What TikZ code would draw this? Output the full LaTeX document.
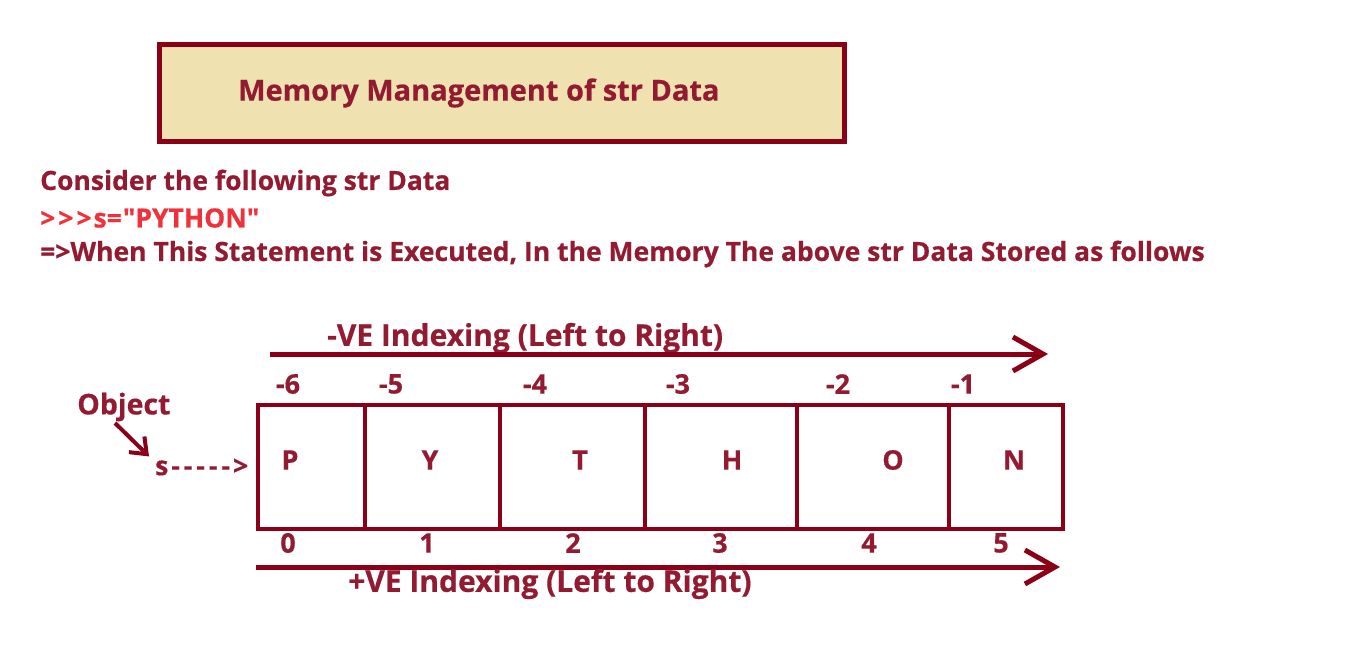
\documentclass[tikz,border=0pt]{standalone}
\usepackage{fontspec}
\setmainfont{Open Sans}[BoldFeatures={FakeBold=0.5}]
\newfontfamily\qfont{Open Sans}[Ligatures=TeXOff,BoldFeatures={FakeBold=0.5}]
\usetikzlibrary{arrows.meta}
\definecolor{lin}{RGB}{139,0,22}
\definecolor{txt}{RGB}{146,27,50}
\definecolor{redt}{RGB}{240,48,58}
\definecolor{cream}{RGB}{240,226,176}
\newcommand{\fsz}[1]{\bfseries\fontsize{#1}{#1}\selectfont}
\begin{document}
\begin{tikzpicture}[x=1pt,y=-1pt,
  lbl/.style={font=\fsz{26.5}, text=txt, inner sep=0pt},
  lft/.style={lbl, anchor=west},
  idx/.style={lbl, font=\fsz{27}, anchor=center},
  cell/.style={draw=lin, line width=4pt, minimum height=124pt, inner sep=0pt, anchor=north west},
  arr/.style={draw=lin, line width=5pt, -{Straight Barb[length=30pt,width=34pt]}}]
\useasboundingbox (0,0) rectangle (1355,648);
\node[draw=lin, fill=cream, line width=5pt, minimum width=685pt, minimum height=97pt, anchor=north west] (title) at (157,42) {};
\node[lft, font=\fsz{29}] (ttext) at (238,93) {Memory Management of str Data};
\node[lft] (l1) at (40,183) {Consider the following str Data};
\node[lft, text=redt, font=\qfont\fsz{26.5}] (l2) at (40,218) {>\kern3pt>\kern3pt>\kern2pt s=\kern1pt"PYTHON"};
\node[lft] (l3) at (40,254) {=>When This Statement is Executed, In the Memory The above str Data Stored as follows};
\node[lft, font=\fsz{30}] (neg) at (327,338) {-VE Indexing (Left to Right)};
\coordinate (na) at (270,354);
\coordinate (nb) at (1048,354);
\draw[arr] (na) -- (nb);
\foreach \x/\t/\n in {288/-6/m6,391/-5/m5,535/-4/m4,678/-3/m3,838/-2/m2,963/-1/m1}
  \node[idx] (\n) at (\x,384) {\t};
\node[cell, minimum width=107pt] (c0) at (256,403) {};
\node[cell, minimum width=135pt] (c1) at (363,403) {};
\node[cell, minimum width=145pt] (c2) at (498,403) {};
\node[cell, minimum width=152pt] (c3) at (643,403) {};
\node[cell, minimum width=152pt] (c4) at (795,403) {};
\node[cell, minimum width=114pt] (c5) at (947,403) {};
\foreach \x/\t/\n in {290/P/p0,430/Y/p1,580/T/p2,732/H/p3,893/O/p4,1014/N/p5}
  \node[idx] (\n) at (\x,460) {\t};
\foreach \x/\t/\n in {288/0/i0,427/1/i1,573/2/i2,720/3/i3,869/4/i4,1001/5/i5}
  \node[idx] (\n) at (\x,543) {\t};
\coordinate (pa) at (256,567);
\coordinate (pb) at (1060,567);
\draw[arr] (pa) -- (pb);
\node[lft, font=\fsz{30}] (pos) at (348,584) {+VE Indexing (Left to Right)};
\node[lft, font=\fsz{28.5}] (obj) at (77,407) {Object};
\node[lft, font=\fsz{26.5}] (s) at (155,467) {s\kern3pt-\kern4pt-\kern4pt-\kern4pt-\kern4pt-\kern3pt>};
\draw[draw=lin, line width=4pt, -{Straight Barb[length=14pt,width=22pt]}] (115,423) -- ([xshift=-6pt,yshift=2pt]s.north west);
\end{tikzpicture}
\end{document}
